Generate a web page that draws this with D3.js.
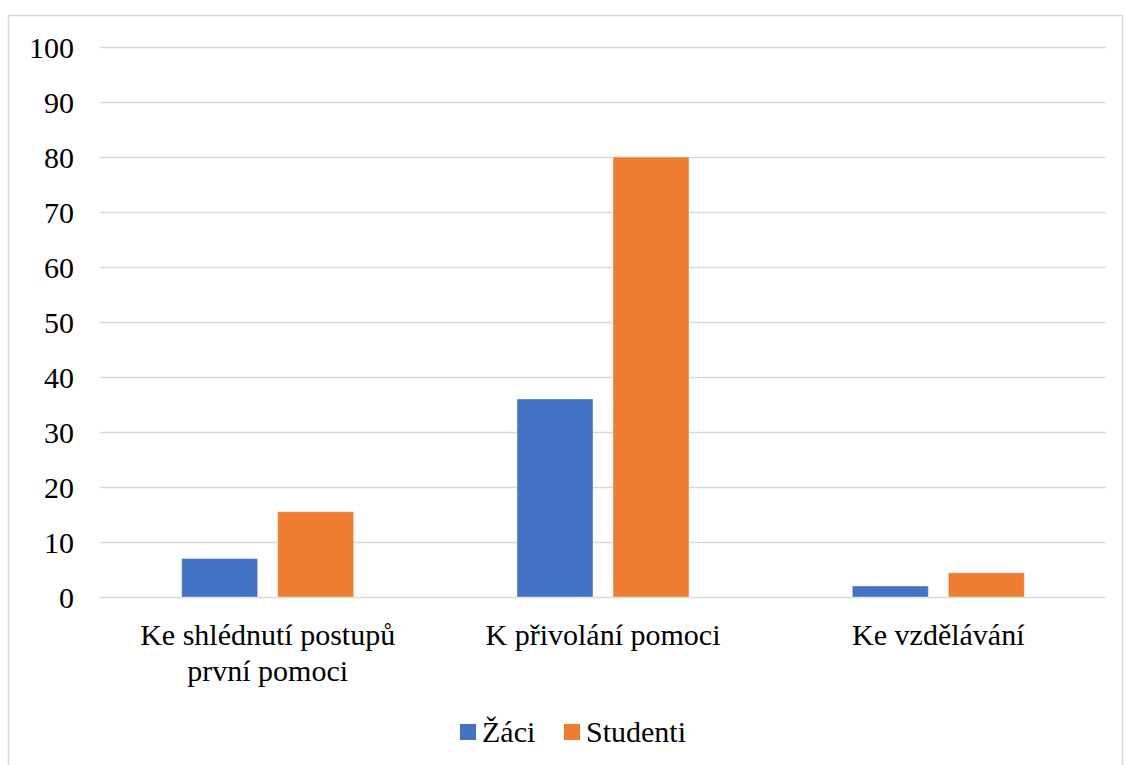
<!DOCTYPE html>
<html>
<head>
<meta charset="utf-8">
<script src="https://cdn.jsdelivr.net/npm/d3@7"></script>
<style>
  html, body { margin: 0; padding: 0; background: #fff; }
  svg { display: block; }
</style>
</head>
<body>
<div id="chart"></div>
<script>
(function () {
	// Data
	const categories = [["Ke shlédnutí postupů", "první pomoci"], ["K přivolání pomoci"], ["Ke vzdělávání"]];
	const seriesNames = ["Žáci", "Studenti"];
	const zaci = [7, 36, 2];
	const studenti = [15.5, 80, 4.4];
	const yTicks = [0, 10, 20, 30, 40, 50, 60, 70, 80, 90, 100];

	const COLORS = ["#4472C4", "#ED7D31"];
	const FONT = "'Liberation Serif', 'Times New Roman', 'DejaVu Serif', serif";

	const width = 1124;
	const height = 765;
	const plot = { left: 100, right: 1106, top: 47, bottom: 597 };

	const svg = d3.select("#chart")
		.append("svg")
		.attr("width", width)
		.attr("height", height);

	// chart frame
	svg.append("rect")
		.attr("x", 8.5)
		.attr("y", 15.5)
		.attr("width", 1114)
		.attr("height", 760)
		.attr("fill", "#fff")
		.attr("stroke", "#D9D9D9")
		.attr("stroke-width", 1.5);

	const x0 = d3.scaleBand()
		.domain(d3.range(categories.length))
		.range([plot.left, plot.right]);

	const y = d3.scaleLinear().domain([0, 100]).range([plot.bottom, plot.top]);

	const barW = 76;
	const innerGap = 20;
	const x1 = d3.scaleOrdinal()
		.domain(seriesNames)
		.range([-(barW + innerGap / 2), innerGap / 2]);

	// gridlines
	svg.append("g")
		.selectAll("line")
		.data(yTicks)
		.join("line")
		.attr("x1", plot.left)
		.attr("x2", plot.right)
		.attr("y1", d => Math.round(y(d)) + 0.5)
		.attr("y2", d => Math.round(y(d)) + 0.5)
		.attr("stroke", "#D9D9D9")
		.attr("stroke-width", 1.5);

	// y tick labels
	const yLabels = svg.append("g")
		.selectAll("text")
		.data(yTicks)
		.join("text")
		.attr("x", 74)
		.attr("y", d => y(d))
		.attr("dy", "0.35em")
		.attr("text-anchor", "end")
		.style("font-family", FONT)
		.style("font-size", "28px")
		.style("fill", "#000")
		.text(d => d);

	// bars
	const series = [zaci, studenti];
	series.forEach((vals, si) => {
		svg.append("g")
			.selectAll("rect")
			.data(vals)
			.join("rect")
			.attr("x", (d, i) => x0(i) + x0.bandwidth() / 2 + x1(seriesNames[si]))
			.attr("y", d => y(d))
			.attr("width", barW)
			.attr("height", d => y(0) - y(d))
			.attr("fill", COLORS[si])
			.attr("stroke", "#fff")
			.attr("stroke-opacity", 0.4)
			.attr("stroke-width", 1);
	});

	// category labels
	const catG = svg.append("g");
	categories.forEach((lines, i) => {
		const t = catG.append("text")
			.attr("x", x0(i) + x0.bandwidth() / 2)
			.attr("y", 645)
			.attr("text-anchor", "middle")
			.style("font-family", FONT)
			.style("font-size", "28px")
			.style("fill", "#000");
		lines.forEach((ln, j) => {
			t.append("tspan")
				.attr("x", x0(i) + x0.bandwidth() / 2)
				.attr("dy", j === 0 ? 0 : 36)
				.text(ln);
		});
	});

	// legend
	const legend = svg.append("g");
	const legendItems = [
		{ name: seriesNames[0], x: 460 },
		{ name: seriesNames[1], x: 564 }
	];
	legendItems.forEach((it, i) => {
		legend.append("rect")
			.attr("x", it.x)
			.attr("y", 724)
			.attr("width", 16)
			.attr("height", 16)
			.attr("fill", COLORS[i]);
		legend.append("text")
			.attr("x", it.x + 22)
			.attr("y", 742)
			.style("font-family", FONT)
			.style("font-size", "28px")
			.style("fill", "#000")
			.text(it.name);
	});

	// fit text size to reference label width (first category line ~272px)
	const probe = catG.select("tspan").node();
	const w = probe.getComputedTextLength();
	const fs = Math.max(18, Math.min(30, 28 * 272 / w));
	svg.selectAll("text").style("font-size", fs + "px");
})();
</script>
</body>
</html>
